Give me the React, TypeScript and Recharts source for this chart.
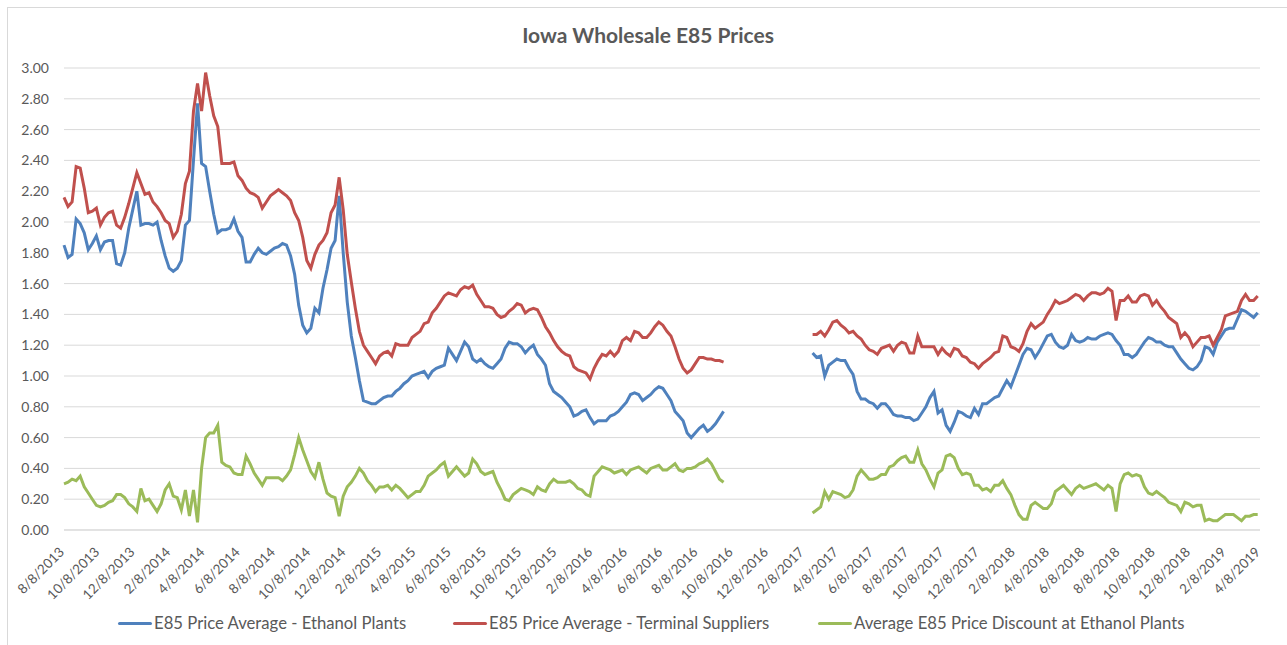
import { CartesianGrid, Line, LineChart, XAxis, YAxis } from "recharts";

const blue = "#4F81BD";
const red = "#C0504D";
const green = "#9BBB59";
const textColor = "#595959";
const gridColor = "#d9d9d9";
const font = "Lato, 'Open Sans', sans-serif";

// weekly series, first week 8/8/2013 (week 0), data breaks after week 163
const plantBefore = [
  1.85, 1.77, 1.79, 2.02, 1.99, 1.93, 1.82, 1.86, 1.91, 1.82,
  1.87, 1.88, 1.88, 1.73, 1.72, 1.8, 1.96, 2.08, 2.2, 1.98,
  1.99, 1.99, 1.98, 2.0, 1.88, 1.78, 1.7, 1.68, 1.7, 1.75,
  1.98, 2.01, 2.4, 2.77, 2.38, 2.36, 2.2, 2.05, 1.93, 1.95,
  1.95, 1.96, 2.02, 1.94, 1.9, 1.74, 1.74, 1.79, 1.83, 1.8,
  1.79, 1.81, 1.83, 1.84, 1.86, 1.85, 1.78, 1.66, 1.46, 1.33,
  1.28, 1.31, 1.44, 1.41, 1.57, 1.69, 1.83, 1.88, 2.17, 1.8,
  1.48, 1.26, 1.12, 0.97, 0.84, 0.83, 0.82, 0.82, 0.84, 0.86,
  0.87, 0.87, 0.9, 0.92, 0.95, 0.97, 1.0, 1.01, 1.02, 1.03,
  0.99, 1.03, 1.05, 1.06, 1.07, 1.18, 1.14, 1.1, 1.16, 1.22,
  1.19, 1.11, 1.09, 1.11, 1.08, 1.06, 1.05, 1.08, 1.11, 1.18,
  1.22, 1.21, 1.21, 1.19, 1.15, 1.18, 1.2, 1.14, 1.11, 1.07,
  0.95, 0.9, 0.88, 0.86, 0.83, 0.8, 0.74, 0.75, 0.77, 0.78,
  0.73, 0.69, 0.71, 0.71, 0.71, 0.74, 0.75, 0.77, 0.8, 0.83,
  0.88, 0.89, 0.88, 0.84, 0.86, 0.88, 0.91, 0.93, 0.92, 0.88,
  0.84, 0.77, 0.74, 0.71, 0.63, 0.6, 0.63, 0.66, 0.68, 0.64,
  0.66, 0.69, 0.73, 0.77,
];
const terminalBefore = [
  2.16, 2.1, 2.13, 2.36, 2.35, 2.22, 2.06, 2.07, 2.09, 1.98,
  2.03, 2.06, 2.07, 1.98, 1.96, 2.03, 2.12, 2.22, 2.32, 2.25,
  2.18, 2.19, 2.13, 2.1, 2.06, 2.01, 1.99, 1.9, 1.94, 2.05,
  2.25, 2.33, 2.72, 2.9, 2.72, 2.97, 2.82, 2.69, 2.62, 2.38,
  2.38, 2.38, 2.39, 2.3, 2.27, 2.22, 2.19, 2.18, 2.16, 2.09,
  2.13, 2.17, 2.19, 2.21, 2.19, 2.17, 2.14, 2.06, 2.01, 1.9,
  1.75, 1.7, 1.79, 1.85, 1.88, 1.93, 2.06, 2.11, 2.29, 2.08,
  1.79, 1.61, 1.44, 1.29, 1.2, 1.16, 1.12, 1.08, 1.13, 1.15,
  1.16, 1.13, 1.21, 1.2, 1.2, 1.2, 1.25, 1.27, 1.29, 1.34,
  1.35, 1.41, 1.44, 1.48, 1.52, 1.54, 1.53, 1.52, 1.56, 1.58,
  1.57, 1.59, 1.53, 1.49, 1.45, 1.45, 1.44, 1.4, 1.38, 1.39,
  1.42, 1.44, 1.47, 1.46, 1.41, 1.43, 1.44, 1.43, 1.38, 1.32,
  1.28, 1.23, 1.19, 1.16, 1.14, 1.13, 1.06, 1.04, 1.03, 1.02,
  0.98, 1.05, 1.1, 1.14, 1.13, 1.16, 1.13, 1.16, 1.23, 1.25,
  1.23, 1.29, 1.28, 1.25, 1.25, 1.28, 1.32, 1.35, 1.33, 1.29,
  1.26, 1.19, 1.11, 1.05, 1.02, 1.04, 1.08, 1.12, 1.12, 1.11,
  1.11, 1.1, 1.1, 1.09,
];
const discountBefore = [
  0.3, 0.31, 0.33, 0.32, 0.35, 0.28, 0.24, 0.2, 0.16, 0.15,
  0.16, 0.18, 0.19, 0.23, 0.23, 0.21, 0.17, 0.15, 0.12, 0.27,
  0.19, 0.2, 0.16, 0.12, 0.17, 0.26, 0.3, 0.22, 0.21, 0.13,
  0.26, 0.09, 0.26, 0.05, 0.4, 0.6, 0.63, 0.63, 0.68, 0.44,
  0.42, 0.41, 0.37, 0.36, 0.36, 0.48, 0.43, 0.37, 0.33, 0.29,
  0.34, 0.34, 0.34, 0.34, 0.32, 0.35, 0.39, 0.49, 0.6, 0.52,
  0.45, 0.38, 0.34, 0.44, 0.33, 0.24, 0.22, 0.21, 0.09, 0.22,
  0.28, 0.31, 0.35, 0.4, 0.37, 0.32, 0.29, 0.25, 0.28, 0.28,
  0.29, 0.26, 0.29, 0.27, 0.24, 0.21, 0.23, 0.25, 0.25, 0.29,
  0.35, 0.37, 0.39, 0.42, 0.44, 0.35, 0.38, 0.41, 0.38, 0.35,
  0.37, 0.46, 0.43, 0.38, 0.36, 0.37, 0.38, 0.31, 0.26, 0.2,
  0.19, 0.23, 0.25, 0.27, 0.26, 0.25, 0.23, 0.28, 0.26, 0.25,
  0.3, 0.33, 0.31, 0.31, 0.31, 0.32, 0.3, 0.27, 0.26, 0.23,
  0.22, 0.35, 0.38, 0.41, 0.4, 0.39, 0.37, 0.38, 0.39, 0.36,
  0.39, 0.4, 0.41, 0.39, 0.37, 0.4, 0.41, 0.42, 0.39, 0.39,
  0.41, 0.43, 0.39, 0.38, 0.4, 0.4, 0.41, 0.43, 0.44, 0.46,
  0.43, 0.38, 0.33, 0.31,
];

// data resumes at week 185 (2/23/2017)
const plantAfter = [
  1.15, 1.12, 1.13, 1.0, 1.07, 1.09, 1.11, 1.1, 1.1, 1.05,
  1.01, 0.9, 0.85, 0.85, 0.83, 0.82, 0.79, 0.82, 0.82, 0.79,
  0.75, 0.74, 0.74, 0.73, 0.73, 0.71, 0.72, 0.76, 0.8, 0.86,
  0.9, 0.76, 0.78, 0.68, 0.64, 0.7, 0.77, 0.76, 0.74, 0.73,
  0.79, 0.75, 0.82, 0.82, 0.84, 0.86, 0.87, 0.92, 0.97, 0.93,
  1.0, 1.07, 1.14, 1.18, 1.17, 1.12, 1.16, 1.21, 1.26, 1.27,
  1.22, 1.19, 1.18, 1.2, 1.27, 1.23, 1.22, 1.23, 1.25, 1.24,
  1.24, 1.26, 1.27, 1.28, 1.27, 1.23, 1.2, 1.14, 1.14, 1.12,
  1.14, 1.18, 1.22, 1.25, 1.24, 1.22, 1.22, 1.2, 1.19, 1.19,
  1.15, 1.11, 1.08, 1.05, 1.04, 1.06, 1.1, 1.19, 1.18, 1.14,
  1.22, 1.26, 1.3, 1.31, 1.31, 1.37, 1.43, 1.42, 1.4, 1.38, 1.41,
];
const terminalAfter = [
  1.27, 1.27, 1.29, 1.26, 1.3, 1.35, 1.36, 1.33, 1.31, 1.28,
  1.29, 1.26, 1.24, 1.2, 1.17, 1.16, 1.14, 1.18, 1.19, 1.2,
  1.16, 1.2, 1.22, 1.21, 1.15, 1.15, 1.26, 1.19, 1.19, 1.19,
  1.19, 1.14, 1.18, 1.15, 1.13, 1.18, 1.17, 1.13, 1.12, 1.09,
  1.08, 1.05, 1.08, 1.1, 1.12, 1.15, 1.16, 1.26, 1.25, 1.19,
  1.18, 1.16, 1.21, 1.29, 1.34, 1.31, 1.33, 1.35, 1.4, 1.44,
  1.49, 1.47, 1.48, 1.49, 1.51, 1.53, 1.52, 1.49, 1.52, 1.54,
  1.54, 1.53, 1.54, 1.57, 1.55, 1.36, 1.49, 1.49, 1.52, 1.48,
  1.48, 1.52, 1.53, 1.52, 1.46, 1.49, 1.45, 1.42, 1.38, 1.36,
  1.34, 1.25, 1.28, 1.25, 1.19, 1.22, 1.25, 1.25, 1.26, 1.2,
  1.25, 1.3, 1.39, 1.4, 1.41, 1.42, 1.49, 1.53, 1.49, 1.49, 1.52,
];
const discountAfter = [
  0.11, 0.13, 0.15, 0.25, 0.2, 0.25, 0.24, 0.23, 0.21, 0.22,
  0.26, 0.35, 0.39, 0.36, 0.33, 0.33, 0.34, 0.36, 0.36, 0.41,
  0.42, 0.45, 0.47, 0.48, 0.44, 0.44, 0.52, 0.43, 0.39, 0.33,
  0.28, 0.37, 0.39, 0.48, 0.49, 0.47, 0.4, 0.36, 0.37, 0.36,
  0.29, 0.29, 0.26, 0.27, 0.25, 0.29, 0.29, 0.32, 0.27, 0.23,
  0.16, 0.1, 0.07, 0.07, 0.16, 0.18, 0.16, 0.14, 0.14, 0.17,
  0.25, 0.27, 0.29, 0.26, 0.23, 0.27, 0.29, 0.27, 0.28, 0.29,
  0.3, 0.28, 0.26, 0.29, 0.27, 0.12, 0.3, 0.36, 0.37, 0.35,
  0.36, 0.35, 0.28, 0.24, 0.23, 0.25, 0.23, 0.21, 0.18, 0.17,
  0.16, 0.12, 0.18, 0.17, 0.15, 0.16, 0.16, 0.06, 0.07, 0.06,
  0.06, 0.08, 0.1, 0.1, 0.1, 0.08, 0.06, 0.09, 0.09, 0.1, 0.1,
];

const resumeWeek = 185;
const dateTicks = [
  "8/8/2013", "10/8/2013", "12/8/2013",
  "2/8/2014", "4/8/2014", "6/8/2014", "8/8/2014", "10/8/2014", "12/8/2014",
  "2/8/2015", "4/8/2015", "6/8/2015", "8/8/2015", "10/8/2015", "12/8/2015",
  "2/8/2016", "4/8/2016", "6/8/2016", "8/8/2016", "10/8/2016", "12/8/2016",
  "2/8/2017", "4/8/2017", "6/8/2017", "8/8/2017", "10/8/2017", "12/8/2017",
  "2/8/2018", "4/8/2018", "6/8/2018", "8/8/2018", "10/8/2018", "12/8/2018",
  "2/8/2019", "4/8/2019",
];
const priceTicks = [0, 0.2, 0.4, 0.6, 0.8, 1, 1.2, 1.4, 1.6, 1.8, 2, 2.2, 2.4, 2.6, 2.8, 3];

const DAY = 86400000;
const origin = Date.UTC(2013, 7, 8);
const dayOf = (s: string) => {
  const [m, d, y] = s.split("/").map(Number);
  return Math.round((Date.UTC(y, m - 1, d) - origin) / DAY);
};
const tickDays = dateTicks.map(dayOf);
const labelByDay = new Map(tickDays.map((d, i) => [d, dateTicks[i]]));

const rows: { day: number; plant: number | null; terminal: number | null; discount: number | null }[] = [];
for (let w = 0; w < resumeWeek + plantAfter.length; w++) {
  if (w < plantBefore.length) {
    rows.push({ day: w * 7, plant: plantBefore[w], terminal: terminalBefore[w], discount: discountBefore[w] });
  } else if (w >= resumeWeek) {
    const i = w - resumeWeek;
    rows.push({ day: w * 7, plant: plantAfter[i], terminal: terminalAfter[i], discount: discountAfter[i] });
  } else if (w === plantBefore.length) {
    rows.push({ day: w * 7, plant: null, terminal: null, discount: null });
  }
}

function DateTick({ x, y, payload }: { x?: number; y?: number; payload?: { value: number } }) {
  const label = labelByDay.get(payload?.value ?? -1) ?? "";
  return (
    <text
      x={0}
      y={0}
      transform={`translate(${(x ?? 0) + 1},${(y ?? 0) + 21}) rotate(-45)`}
      textAnchor="end"
      fill={textColor}
      fontSize={13.5}
      fontFamily={font}
    >
      {label}
    </text>
  );
}

const legendItems = [
  { name: "E85 Price Average - Ethanol Plants", color: blue, left: 118 },
  { name: "E85 Price Average - Terminal Suppliers", color: red, left: 453 },
  { name: "Average E85 Price Discount at Ethanol Plants", color: green, left: 818 },
];

export default function App() {
  return (
    <div
      style={{
        position: "absolute",
        left: 0,
        top: 0,
        width: 1287,
        height: 645,
        overflow: "hidden",
        background: "#fff",
        fontFamily: font,
      }}
    >
      <div
        style={{
          position: "absolute",
          left: 7,
          top: 7,
          width: 1300,
          height: 660,
          border: `1px solid ${gridColor}`,
        }}
      />
      <div
        style={{
          position: "absolute",
          left: 0,
          top: 22,
          width: 1296,
          textAlign: "center",
          fontSize: 21,
          fontWeight: 700,
          color: textColor,
        }}
      >
        Iowa Wholesale E85 Prices
      </div>
      <LineChart
        width={1287}
        height={645}
        data={rows}
        margin={{ top: 68, right: 27, left: 8, bottom: 0 }}
        style={{ position: "absolute", left: 0, top: 0 }}
      >
        <CartesianGrid stroke={gridColor} vertical={false} />
        <XAxis
          dataKey="day"
          type="number"
          domain={[0, tickDays[tickDays.length - 1]]}
          ticks={tickDays}
          interval={0}
          height={115}
          tickLine={false}
          tickSize={0}
          axisLine={{ stroke: gridColor }}
          tick={<DateTick />}
        />
        <YAxis
          domain={[0, 3]}
          ticks={priceTicks}
          width={56}
          axisLine={false}
          tickLine={false}
          tickSize={0}
          tickMargin={15}
          tickFormatter={(v: number) => v.toFixed(2)}
          tick={{ fill: textColor, fontSize: 14, fontFamily: font }}
        />
        <Line dataKey="plant" stroke={blue} strokeWidth={3} dot={false} isAnimationActive={false} />
        <Line dataKey="terminal" stroke={red} strokeWidth={3} dot={false} isAnimationActive={false} />
        <Line dataKey="discount" stroke={green} strokeWidth={3} dot={false} isAnimationActive={false} />
      </LineChart>
      {legendItems.map((it) => (
        <div
          key={it.name}
          style={{
            position: "absolute",
            left: it.left,
            top: 613,
            display: "flex",
            alignItems: "center",
            fontSize: 16.7,
            color: textColor,
            whiteSpace: "nowrap",
          }}
        >
          <span style={{ width: 34, height: 3, background: it.color, marginRight: 2, borderRadius: 2 }} />
          {it.name}
        </div>
      ))}
    </div>
  );
}
